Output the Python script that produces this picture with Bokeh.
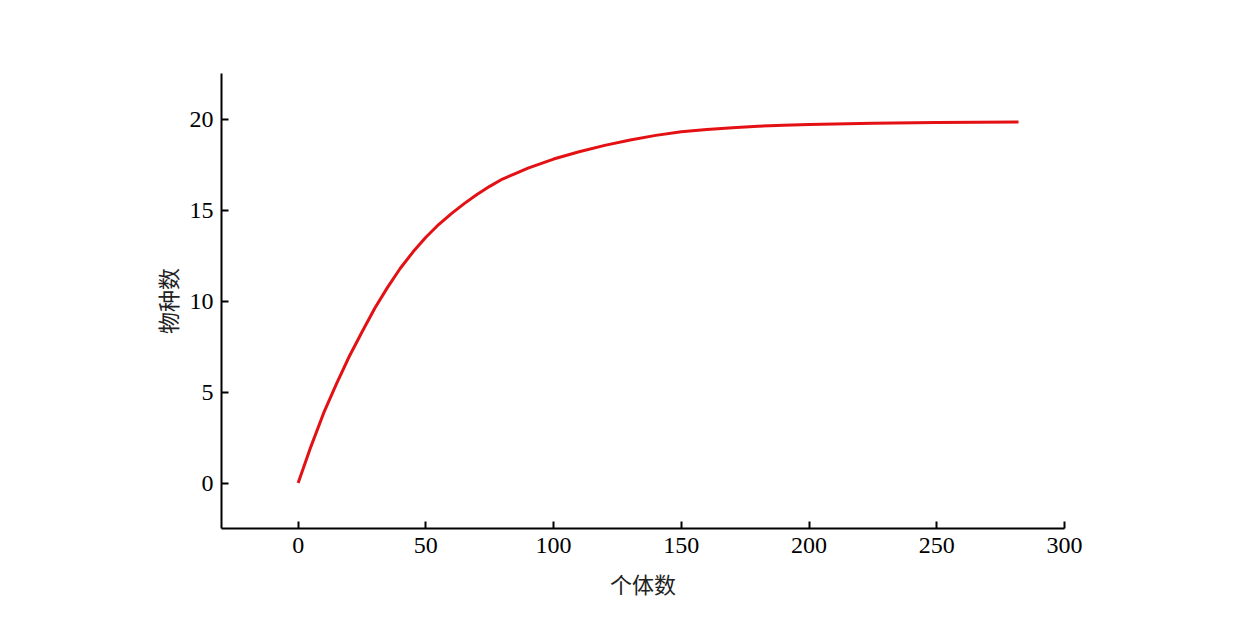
from bokeh.plotting import figure
from bokeh.models import Range1d, FixedTicker
from bokeh.embed import file_html
from bokeh.resources import INLINE

# data
individuals = [0, 5, 10, 15, 20, 25, 30, 35, 40, 45, 50, 55, 60, 65, 70, 75, 80,
               85, 90, 95, 100, 110, 120, 130, 140, 150, 160, 170, 180, 190,
               200, 225, 250, 282]
species = [0, 2.0, 3.85, 5.45, 6.95, 8.3, 9.6, 10.75, 11.8, 12.7, 13.5, 14.2,
           14.8, 15.35, 15.85, 16.3, 16.7, 17.0, 17.3, 17.55, 17.8, 18.2, 18.55,
           18.85, 19.1, 19.3, 19.42, 19.52, 19.6, 19.66, 19.7, 19.77, 19.81, 19.84]
x_ticks = [0, 50, 100, 150, 200, 250, 300]
y_ticks = [0, 5, 10, 15, 20]
x_label = "个体数"
y_label = "物种数"

p = figure(width=1226, height=618, output_backend="svg", toolbar_location=None,
           x_range=Range1d(-30, 300), y_range=Range1d(-2.5, 22.5),
           min_border_left=221, min_border_right=162, min_border_top=73,
           min_border_bottom=90)
p.outline_line_color = None
p.xgrid.visible = False
p.ygrid.visible = False

p.line(individuals, species, line_color="#e31014", line_width=3)

for ax in (p.xaxis[0], p.yaxis[0]):
    ax.axis_line_width = 2
    ax.axis_line_color = "black"
    ax.major_tick_in = 7
    ax.major_tick_out = 0
    ax.major_tick_line_width = 2
    ax.minor_tick_line_color = None
    ax.major_label_text_font = "Liberation Serif"
    ax.major_label_text_font_size = "24px"
    ax.major_label_text_color = "black"
    ax.axis_label_text_font = "Noto Sans CJK SC"
    ax.axis_label_text_font_size = "22px"
    ax.axis_label_text_font_style = "normal"
    ax.axis_label_text_color = "#222222"

p.xaxis[0].ticker = FixedTicker(ticks=x_ticks)
p.yaxis[0].ticker = FixedTicker(ticks=y_ticks)
p.xaxis[0].axis_label = x_label
p.yaxis[0].axis_label = y_label
p.xaxis[0].major_label_standoff = 9
p.xaxis[0].axis_label_standoff = 11
p.yaxis[0].major_label_standoff = 8
p.yaxis[0].axis_label_standoff = 4

open("out.html", "w").write(file_html(p, INLINE))
